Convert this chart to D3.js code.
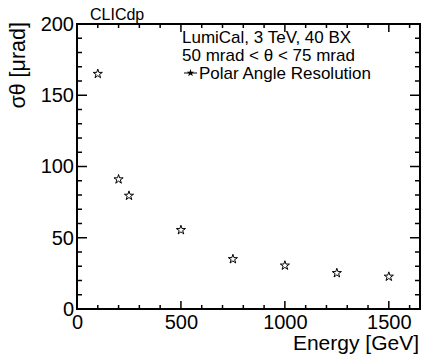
<!DOCTYPE html>
<html>
<head>
<meta charset="utf-8">
<script src="https://cdn.jsdelivr.net/npm/d3@7"></script>
<style>
  html, body { margin: 0; padding: 0; background: #fff; }
  svg { display: block; font-family: "Liberation Sans", Arial, Helvetica, sans-serif; }
</style>
</head>
<body>
<svg id="chart" width="421" height="357"></svg>
<script>
// Polar angle resolution of LumiCal vs. electron energy
const energies = [100, 200, 250, 500, 750, 1000, 1250, 1500];
const resolution = [165, 91, 79.5, 55.4, 35, 30.5, 25.2, 22.7];
const xTicks = [0, 500, 1000, 1500];
const yTicks = [0, 50, 100, 150, 200];
const legendLines = ["LumiCal, 3 TeV, 40 BX", "50 mrad < \u03b8 < 75 mrad"];
const seriesName = "Polar Angle Resolution";

const W = 421, H = 357;
const m = { left: 77, right: 1, top: 24, bottom: 48 };

const svg = d3.select("#chart");

const x = d3.scaleLinear().domain([0, 1650]).range([m.left, W - m.right]);
const y = d3.scaleLinear().domain([0, 200]).range([H - m.bottom, m.top]);

const x0 = x.range()[0], x1 = x.range()[1];
const y0 = y.range()[0], y1 = y.range()[1];

// tick marks: major + minor on all four sides
const xMinor = d3.range(0, 1650, 100).filter(v => v % 500 !== 0);
const yMinor = d3.range(0, 201, 10).filter(v => v % 50 !== 0);

const ticks = svg.append("g").attr("stroke", "#000").attr("stroke-width", 1.5);
function tickX(vals, len) {
  vals.forEach(v => {
    ticks.append("line").attr("x1", x(v)).attr("x2", x(v)).attr("y1", y0).attr("y2", y0 - len);
    ticks.append("line").attr("x1", x(v)).attr("x2", x(v)).attr("y1", y1).attr("y2", y1 + len);
  });
}
function tickY(vals, len) {
  vals.forEach(v => {
    ticks.append("line").attr("y1", y(v)).attr("y2", y(v)).attr("x1", x0).attr("x2", x0 + len);
    ticks.append("line").attr("y1", y(v)).attr("y2", y(v)).attr("x1", x1).attr("x2", x1 - len);
  });
}
tickX(xTicks, 8);
tickX(xMinor, 4);
tickY(yTicks, 10);
tickY(yMinor, 5);

// frame
svg.append("rect")
  .attr("x", x0).attr("y", y1)
  .attr("width", x1 - x0).attr("height", y0 - y1)
  .attr("fill", "none").attr("stroke", "#000").attr("stroke-width", 2);

// axis labels
const xAxis = d3.axisBottom(x).tickValues(xTicks).tickFormat(d3.format("d")).tickSize(0).tickPadding(4);
svg.append("g").attr("transform", `translate(0,${y0})`).call(xAxis)
  .call(g => g.select(".domain").remove())
  .selectAll("text").attr("font-size", 20).attr("font-family", "Liberation Sans, Arial, sans-serif")
  .attr("fill", "#000").attr("dy", "0.8em");

const yAxis = d3.axisLeft(y).tickValues(yTicks).tickFormat(d3.format("d")).tickSize(0).tickPadding(3);
svg.append("g").attr("transform", `translate(${x0},0)`).call(yAxis)
  .call(g => g.select(".domain").remove())
  .selectAll("text").attr("font-size", 20).attr("font-family", "Liberation Sans, Arial, sans-serif")
  .attr("fill", "#000");

// axis titles
svg.append("text")
  .attr("x", 419).attr("y", 350)
  .attr("text-anchor", "end").attr("font-size", 21)
  .text("Energy [GeV]");

svg.append("text")
  .attr("transform", `translate(25,22) rotate(-90)`)
  .attr("text-anchor", "end").attr("font-size", 21.5)
  .text("\u03c3\u03b8 [\u03bcrad]");

svg.append("text")
  .attr("x", 90).attr("y", 20)
  .attr("font-size", 16)
  .text("CLICdp");

// legend
const lg = svg.append("g").attr("font-size", 17);
legendLines.forEach((t, i) => {
  lg.append("text").attr("x", 182).attr("y", 43 + i * 18).text(t);
});
lg.append("text").attr("x", 199).attr("y", 79).text(seriesName);
lg.append("line").attr("x1", 184).attr("x2", 197).attr("y1", 73).attr("y2", 73)
  .attr("stroke", "#000").attr("stroke-width", 1);
lg.append("path").attr("d", d3.symbol(d3.symbolStar, 18)())
  .attr("transform", "translate(190.5,73)")
  .attr("fill", "#000");

// data points: open stars
const star = d3.symbol(d3.symbolStar, 26);
svg.append("g").selectAll("path")
  .data(energies.map((e, i) => [e, resolution[i]]))
  .join("path")
  .attr("d", star)
  .attr("transform", d => `translate(${x(d[0])},${y(d[1])})`)
  .attr("fill", "#fff").attr("stroke", "#000").attr("stroke-width", 1);
</script>
</body>
</html>
